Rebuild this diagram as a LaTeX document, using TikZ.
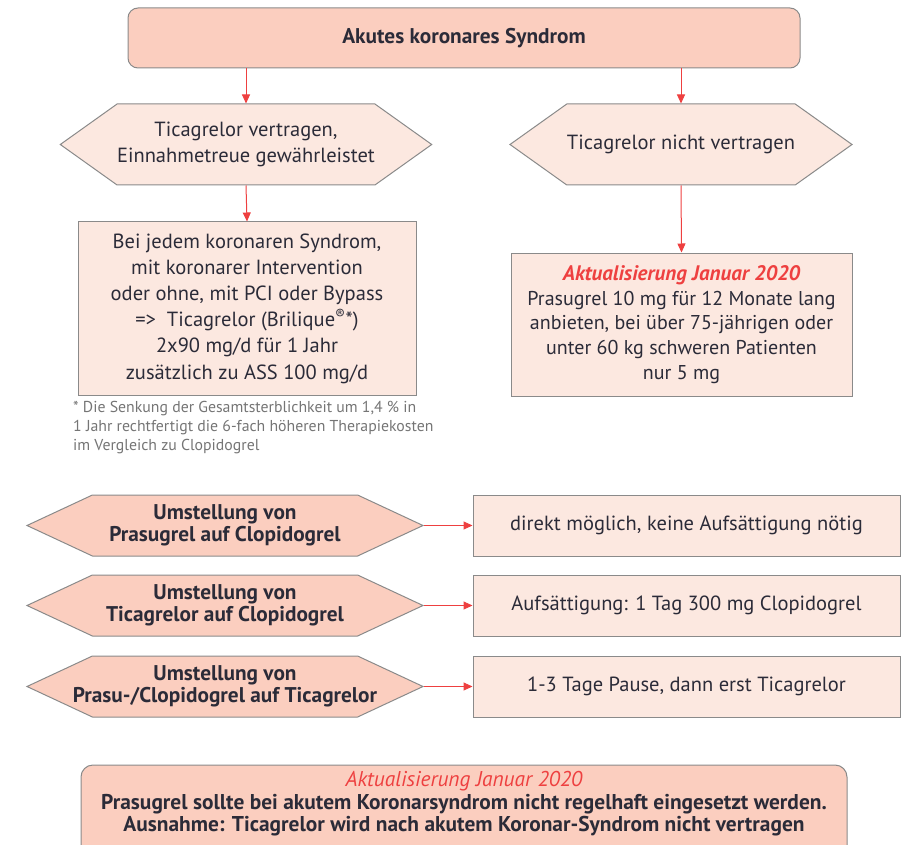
\documentclass[tikz,border=0pt]{standalone}
\usepackage{fontspec}
\setmainfont{PT Sans}
\usepackage{tikz}
\usetikzlibrary{shapes.symbols, arrows.meta}
\definecolor{lachs}{HTML}{FBCEBF}
\definecolor{hell}{HTML}{FCE8E0}
\definecolor{rahmen}{HTML}{8A8A8A}
\definecolor{pfeilrot}{HTML}{EE4040}
\definecolor{schrift}{HTML}{2B2B38}
\tikzstyle{arrow} = [line width=1pt, draw=pfeilrot, -{Triangle[length=9pt,width=8pt]}]
\tikzstyle{kopf} = [rectangle, rounded corners=10pt, draw=rahmen, line width=1pt, fill=lachs, inner sep=0pt, text=schrift, align=center]
\tikzstyle{frage} = [signal, signal to=east and west, draw=rahmen, line width=1pt, fill=hell, inner sep=0pt, text=schrift, align=center, minimum width=342pt, minimum height=81pt, signal pointer angle=71]
\tikzstyle{wechsel} = [signal, signal to=east and west, draw=rahmen, line width=1pt, fill=lachs, inner ysep=0pt, inner xsep=-40pt, text=schrift, align=center, minimum width=396pt, minimum height=61pt, signal pointer angle=50, font=\bfseries\fontsize{21.3}{22}\selectfont]
\tikzstyle{kasten} = [rectangle, draw=rahmen, line width=1pt, fill=hell, inner sep=0pt, text=schrift, align=center]
\newcommand{\neu}[1]{{\color{pfeilrot}\bfseries\itshape #1}}

\begin{document}
\begin{tikzpicture}[x=1pt, y=-1pt, font=\fontsize{20.5}{26.2}\selectfont]
		\useasboundingbox (0,0) rectangle (902,845);
		\clip (0,0) rectangle (902,845);
		\node (acs) [kopf, minimum width=672pt, minimum height=60pt, font=\bfseries\fontsize{21.3}{24}\selectfont] at (464,38) {Akutes koronares Syndrom};
		\node (tv) [frage] at (246,144.5) {Ticagrelor vertragen,\\Einnahmetreue gewährleistet};
		\node (tnv) [frage] at (681,144.5) {Ticagrelor nicht vertragen};
		\draw [arrow] (acs.south -| tv.north) -- (tv.north);
		\draw [arrow] (acs.south -| tnv.north) -- (tnv.north);
		\node (bei) [kasten, minimum width=338pt, minimum height=173pt] at (247,308.5) {Bei jedem koronaren Syndrom,\\mit koronarer Intervention\\oder ohne, mit PCI oder Bypass\\=>\ \ Ticagrelor (Brilique\textsuperscript{®}*)\\2x90 mg/d für 1 Jahr\\zusätzlich zu ASS 100 mg/d};
		\draw [arrow] (tv.south) -- (bei.north);
		\node (pras) [kasten, minimum width=341pt, minimum height=143pt, font=\fontsize{20}{24.7}\selectfont] at (681.5,324.5) {{\fontsize{21}{24.7}\selectfont\neu{Aktualisierung Januar 2020}}\\Prasugrel 10 mg für 12 Monate lang\\anbieten, bei über 75-jährigen oder\\unter 60 kg schweren Patienten\\nur 5 mg};
		\draw [arrow] (tnv.south) -- (pras.north);
		\node (note) [anchor=north west, align=left, text=rahmen!85!black, font=\fontsize{15.8}{18.8}\selectfont, inner sep=0pt] at (73,401) {* Die Senkung der Gesamtsterblichkeit um 1,4 \% in\\1 Jahr rechtfertigt die 6-fach höheren Therapiekosten\\im Vergleich zu Clopidogrel};
		% Umstellungen
		\node (u1) [wechsel] at (225,525.5) {Umstellung von\\Prasugrel auf Clopidogrel};
		\node (u2) [wechsel] at (225,605.5) {Umstellung von\\Ticagrelor auf Clopidogrel};
		\node (u3) [wechsel] at (225,686.5) {Umstellung von\\Prasu-/Clopidogrel auf Ticagrelor};
		\node (r1) [kasten, minimum width=427pt, minimum height=61pt] at (686.5,525.5) {direkt möglich, keine Aufsättigung nötig};
		\node (r2) [kasten, minimum width=427pt, minimum height=61pt] at (686.5,605.5) {Aufsättigung: 1 Tag 300 mg Clopidogrel};
		\node (r3) [kasten, minimum width=427pt, minimum height=61pt] at (686.5,686.5) {1-3 Tage Pause, dann erst Ticagrelor};
		\draw [arrow] (u1.east) -- (r1.west);
		\draw [arrow] (u2.east) -- (r2.west);
		\draw [arrow] (u3.east) -- (r3.west);
		% Fazit, unten abgeschnitten
		\draw [draw=rahmen, line width=1pt, fill=lachs, rounded corners=12pt] (81,765) rectangle (847,880);
		\node (fazit) [text=schrift, align=center, inner sep=0pt, font=\bfseries\fontsize{21.4}{22.5}\selectfont] at (464,804) {\neu{\mdseries\itshape Aktualisierung Januar 2020}\\Prasugrel sollte bei akutem Koronarsyndrom nicht regelhaft eingesetzt werden.\\Ausnahme: Ticagrelor wird nach akutem Koronar-Syndrom nicht vertragen};
\end{tikzpicture}
\end{document}
